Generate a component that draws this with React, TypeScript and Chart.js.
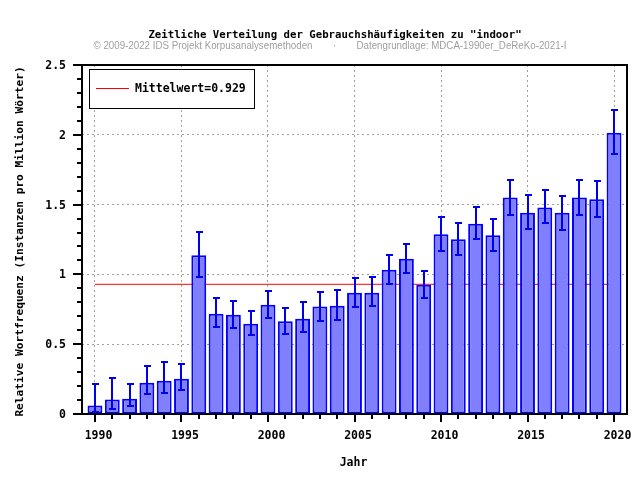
import React, { useEffect, useRef } from "react";
import { Chart, registerables } from "chart.js";

Chart.register(...registerables);

const TITLE = 'Zeitliche Verteilung der Gebrauchshäufigkeiten zu "indoor"';
const SUB_LEFT = "© 2009-2022 IDS Projekt Korpusanalysemethoden";
const SUB_SEP = "·";
const SUB_RIGHT = "Datengrundlage: MDCA-1990er_DeReKo-2021-I";
const X_TITLE = "Jahr";
const Y_TITLE = "Relative Wortfrequenz (Instanzen pro Million Wörter)";
const MEAN = 0.929;
const MEAN_LABEL = "Mittelwert=0.929";

const YEARS = [
  1990, 1991, 1992, 1993, 1994, 1995, 1996, 1997, 1998, 1999, 2000, 2001, 2002, 2003, 2004, 2005,
  2006, 2007, 2008, 2009, 2010, 2011, 2012, 2013, 2014, 2015, 2016, 2017, 2018, 2019, 2020,
];
const VALUES = [
  0.06, 0.103, 0.11, 0.224, 0.239, 0.253, 1.137, 0.719, 0.711, 0.647, 0.783, 0.664, 0.683, 0.77,
  0.776, 0.869, 0.869, 1.034, 1.113, 0.926, 1.287, 1.251, 1.363, 1.28, 1.55, 1.442, 1.48, 1.442,
  1.55, 1.538, 2.015,
];
const ERR_HIGH = [
  0.215, 0.26, 0.215, 0.344, 0.372, 0.358, 1.304, 0.833, 0.812, 0.74, 0.883, 0.76, 0.8, 0.874,
  0.89, 0.976, 0.983, 1.141, 1.22, 1.027, 1.413, 1.37, 1.485, 1.4, 1.678, 1.569, 1.607, 1.562,
  1.678, 1.671, 2.178,
];
const ERR_LOW = [
  0.012, 0.038, 0.06, 0.146, 0.153, 0.174, 0.984, 0.625, 0.618, 0.568, 0.69, 0.575, 0.59, 0.668,
  0.673, 0.769, 0.776, 0.933, 1.012, 0.833, 1.17, 1.141, 1.254, 1.168, 1.426, 1.325, 1.368, 1.318,
  1.426, 1.411, 1.862,
];
const X_MIN = 1989.25;
const X_MAX = 2020.75;
const X_MAJOR_STEP = 5;
const Y_MIN = 0;
const Y_MAX = 2.5;
const Y_MAJOR_STEP = 0.5;
const Y_MINOR_STEP = 0.1;

const MONO = "'DejaVu Sans Mono', 'Liberation Mono', monospace";
const SANS = "'Liberation Sans', Arial, sans-serif";

const decorPlugin = {
  id: "decor",
  afterDatasetsDraw(chart: any) {
    const { ctx, chartArea, scales } = chart;
    const xs = scales.x;
    const ys = scales.y;
    ctx.save();

    // error bars
    ctx.strokeStyle = "#0000ee";
    ctx.lineWidth = 2;
    YEARS.forEach((yr, i) => {
      const px = Math.round(xs.getPixelForValue(yr));
      const hi = Math.round(ys.getPixelForValue(ERR_HIGH[i]));
      const lo = Math.round(ys.getPixelForValue(ERR_LOW[i]));
      ctx.beginPath();
      ctx.moveTo(px, lo);
      ctx.lineTo(px, hi);
      ctx.moveTo(px - 3, hi);
      ctx.lineTo(px + 4, hi);
      ctx.moveTo(px - 3, lo);
      ctx.lineTo(px + 4, lo);
      ctx.stroke();
    });

    // frame
    ctx.strokeStyle = "#000";
    ctx.lineWidth = 2;
    ctx.strokeRect(chartArea.left, chartArea.top, chartArea.right - chartArea.left, chartArea.bottom - chartArea.top);

    // y ticks
    for (let v = Y_MIN; v <= Y_MAX + 1e-9; v += Y_MINOR_STEP) {
      const py = Math.round(ys.getPixelForValue(v));
      const major = Math.abs(v / Y_MAJOR_STEP - Math.round(v / Y_MAJOR_STEP)) < 1e-6;
      ctx.beginPath();
      ctx.moveTo(chartArea.left, py);
      ctx.lineTo(chartArea.left - (major ? 9 : 5), py);
      ctx.stroke();
    }
    // x ticks
    YEARS.forEach((yr) => {
      const px = Math.round(xs.getPixelForValue(yr));
      const major = yr % X_MAJOR_STEP === 0;
      ctx.beginPath();
      ctx.moveTo(px, chartArea.bottom);
      ctx.lineTo(px, chartArea.bottom + (major ? 8 : 5));
      ctx.stroke();
    });

    // legend box
    const lx = chartArea.left + 7.5;
    const ly = chartArea.top + 4.5;
    ctx.fillStyle = "#fff";
    ctx.fillRect(lx, ly, 165, 39);
    ctx.lineWidth = 1;
    ctx.strokeStyle = "#000";
    ctx.strokeRect(lx, ly, 165, 39);
    ctx.strokeStyle = "#ff0000";
    ctx.beginPath();
    ctx.moveTo(lx + 6.5, ly + 19);
    ctx.lineTo(lx + 39.5, ly + 19);
    ctx.stroke();
    ctx.fillStyle = "#000";
    ctx.font = `bold 11.5px ${MONO}`;
    ctx.textAlign = "left";
    ctx.textBaseline = "middle";
    ctx.fillText(MEAN_LABEL, lx + 45.5, ly + 19.5);
    ctx.restore();
  },
  afterDraw(chart: any) {
    const { ctx, chartArea } = chart;
    ctx.save();
    ctx.fillStyle = "#000";
    ctx.font = `bold 10.7px ${MONO}`;
    ctx.textAlign = "center";
    ctx.textBaseline = "alphabetic";
    ctx.fillText(TITLE, 335, 38);

    ctx.fillStyle = "#a0a0a0";
    ctx.font = `10px ${SANS}`;
    ctx.textAlign = "left";
    ctx.fillText(SUB_LEFT, 93.5, 48.5, 219);
    ctx.textAlign = "center";
    ctx.fillText(SUB_SEP, 334.5, 48.5);
    ctx.textAlign = "left";
    ctx.fillText(SUB_RIGHT, 356.5, 48.5, 210);

    ctx.fillStyle = "#000";
    ctx.font = `bold 11.5px ${MONO}`;
    ctx.textAlign = "center";
    ctx.fillText(X_TITLE, 353.5, 466);

    ctx.font = `bold 11.2px ${MONO}`;
    ctx.translate(20, (chartArea.top + chartArea.bottom) / 2 + 2);
    ctx.rotate(-Math.PI / 2);
    ctx.textBaseline = "middle";
    ctx.fillText(Y_TITLE, 0, 0);
    ctx.restore();
  },
};

export default function App() {
  const ref = useRef<HTMLCanvasElement | null>(null);
  useEffect(() => {
    if (!ref.current) return;
    const tickFont = { family: MONO, size: 11.5, weight: "bold" as const };
    const chart = new Chart(ref.current, {
      type: "bar",
      data: {
        datasets: [
          {
            type: "bar",
            data: YEARS.map((yr, i) => ({ x: yr, y: VALUES[i] })),
            backgroundColor: "#8080ff",
            borderColor: "#0000ff",
            borderWidth: 2,
            borderSkipped: false,
            barPercentage: 0.86,
            categoryPercentage: 1,
            order: 1,
          } as any,
          {
            type: "line",
            data: [
              { x: YEARS[0], y: MEAN },
              { x: YEARS[YEARS.length - 1], y: MEAN },
            ],
            borderColor: "#ff0000",
            borderWidth: 1,
            pointRadius: 0,
            order: 2,
          } as any,
        ],
      },
      options: {
        animation: false,
        responsive: false,
        layout: { padding: { top: 65, right: 13, left: 0, bottom: 0 } },
        plugins: { legend: { display: false }, tooltip: { enabled: false }, title: { display: false } },
        scales: {
          x: {
            type: "linear",
            min: X_MIN,
            max: X_MAX,
            offset: false,
            afterFit: (s: any) => {
              s.height = 66;
              s.paddingLeft = 0;
              s.paddingRight = 0;
            },
            ticks: {
              stepSize: X_MAJOR_STEP,
              includeBounds: false,
              autoSkip: false,
              maxRotation: 0,
              labelOffset: 3.5,
              callback: (v: any) => String(v),
              font: tickFont,
              color: "#000",
              padding: 15,
            },
            grid: { display: true, offset: false, drawOnChartArea: true, drawTicks: false, color: "#a0a0a0", lineWidth: 1 },
            border: { display: false, dash: [2, 3] },
          },
          y: {
            type: "linear",
            min: Y_MIN,
            max: Y_MAX,
            afterFit: (s: any) => {
              s.width = 82;
              s.paddingTop = 0;
              s.paddingBottom = 0;
            },
            ticks: {
              stepSize: Y_MAJOR_STEP,
              labelOffset: 1,
              callback: (v: any) => String(v),
              font: tickFont,
              color: "#000",
              padding: 16,
            },
            grid: { display: true, drawOnChartArea: true, drawTicks: false, color: "#a0a0a0", lineWidth: 1 },
            border: { display: false, dash: [2, 3] },
          },
        },
      } as any,
      plugins: [decorPlugin],
    });
    return () => chart.destroy();
  }, []);
  return (
    <div style={{ position: "absolute", left: 0, top: 0, width: 640, height: 480, background: "#fff" }}>
      <canvas ref={ref} width={640} height={480} style={{ width: 640, height: 480, display: "block" }} />
    </div>
  );
}
